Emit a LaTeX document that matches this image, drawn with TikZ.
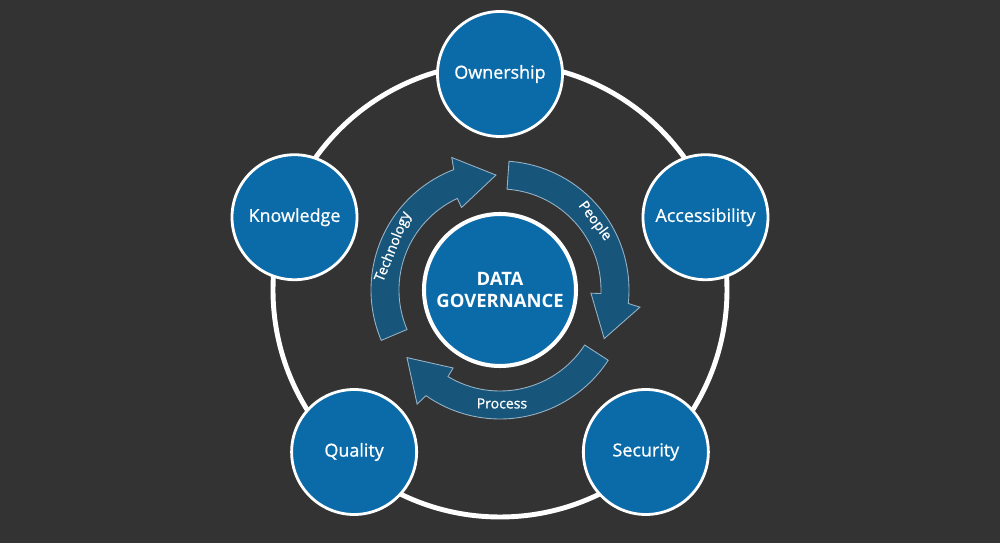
\documentclass[tikz,border=0pt]{standalone}
\usepackage{fontspec}
\setmainfont{Open Sans}
\newfontfamily\semibf[FakeBold=0.9]{Open Sans}
\definecolor{bgdark}{RGB}{51,51,51}
\definecolor{govblue}{RGB}{11,106,168}
\definecolor{cycleblue}{RGB}{23,85,122}
\definecolor{cycleedge}{RGB}{150,178,198}
\usetikzlibrary{positioning}

\begin{document}
\begin{tikzpicture}[
  pillar/.style={circle, draw=white, line width=1.6pt, fill=govblue,
    minimum size=2.5cm, inner sep=0pt,
    font=\semibf\fontsize{10.2}{12}\selectfont, text=white},
  hub/.style={circle, draw=white, line width=2.3pt, fill=govblue,
    minimum size=3.04cm, inner sep=0pt, align=center,
    font=\fontsize{10.5}{12.5}\selectfont\bfseries, text=white},
  cyc/.style={fill=cycleblue, draw=cycleedge, line width=0.5pt},
  cyclbl/.style={font=\semibf\fontsize{8}{9}\selectfont, text=white},
]
\fill[bgdark] (-10,-5.06) rectangle (10,5.8);
\useasboundingbox (-10,-5.06) rectangle (10,5.8);

% Outer ring
\draw[white, line width=2.8pt] (0,0) circle (4.54);

\node[pillar] (own) at (90:4.32) {Ownership};
\node[pillar] (acc) at (19.5:4.36) {Accessibility};
\node[pillar] (sec) at (-48:4.36) {Security};
\node[pillar] (qual) at (-132:4.36) {Quality};
\node[pillar] (know) at (160.5:4.36) {Knowledge};

% Cycle arrows
\foreach \a in {203,86,-33}{
  \draw[cyc] (\a:2.58) arc[start angle=\a, end angle=\a-92, radius=2.58]
    -- ({\a-93}:2.82) -- ({\a-111}:2.30) -- ({\a-88}:1.82)
    -- ({\a-88}:2.02) arc[start angle=\a-88, end angle=\a, radius=2.02]
    -- cycle;
}

\node[hub] (gov) at (0,0) {DATA\\GOVERNANCE};

% Arrow labels
\node[cyclbl, rotate=68] (tech) at (158:2.30) {Technology};
\node[cyclbl, rotate=-53] (ppl) at (36:2.34) {People};
\node[cyclbl] (proc) at (-89:2.27) {Process};
\end{tikzpicture}
\end{document}
